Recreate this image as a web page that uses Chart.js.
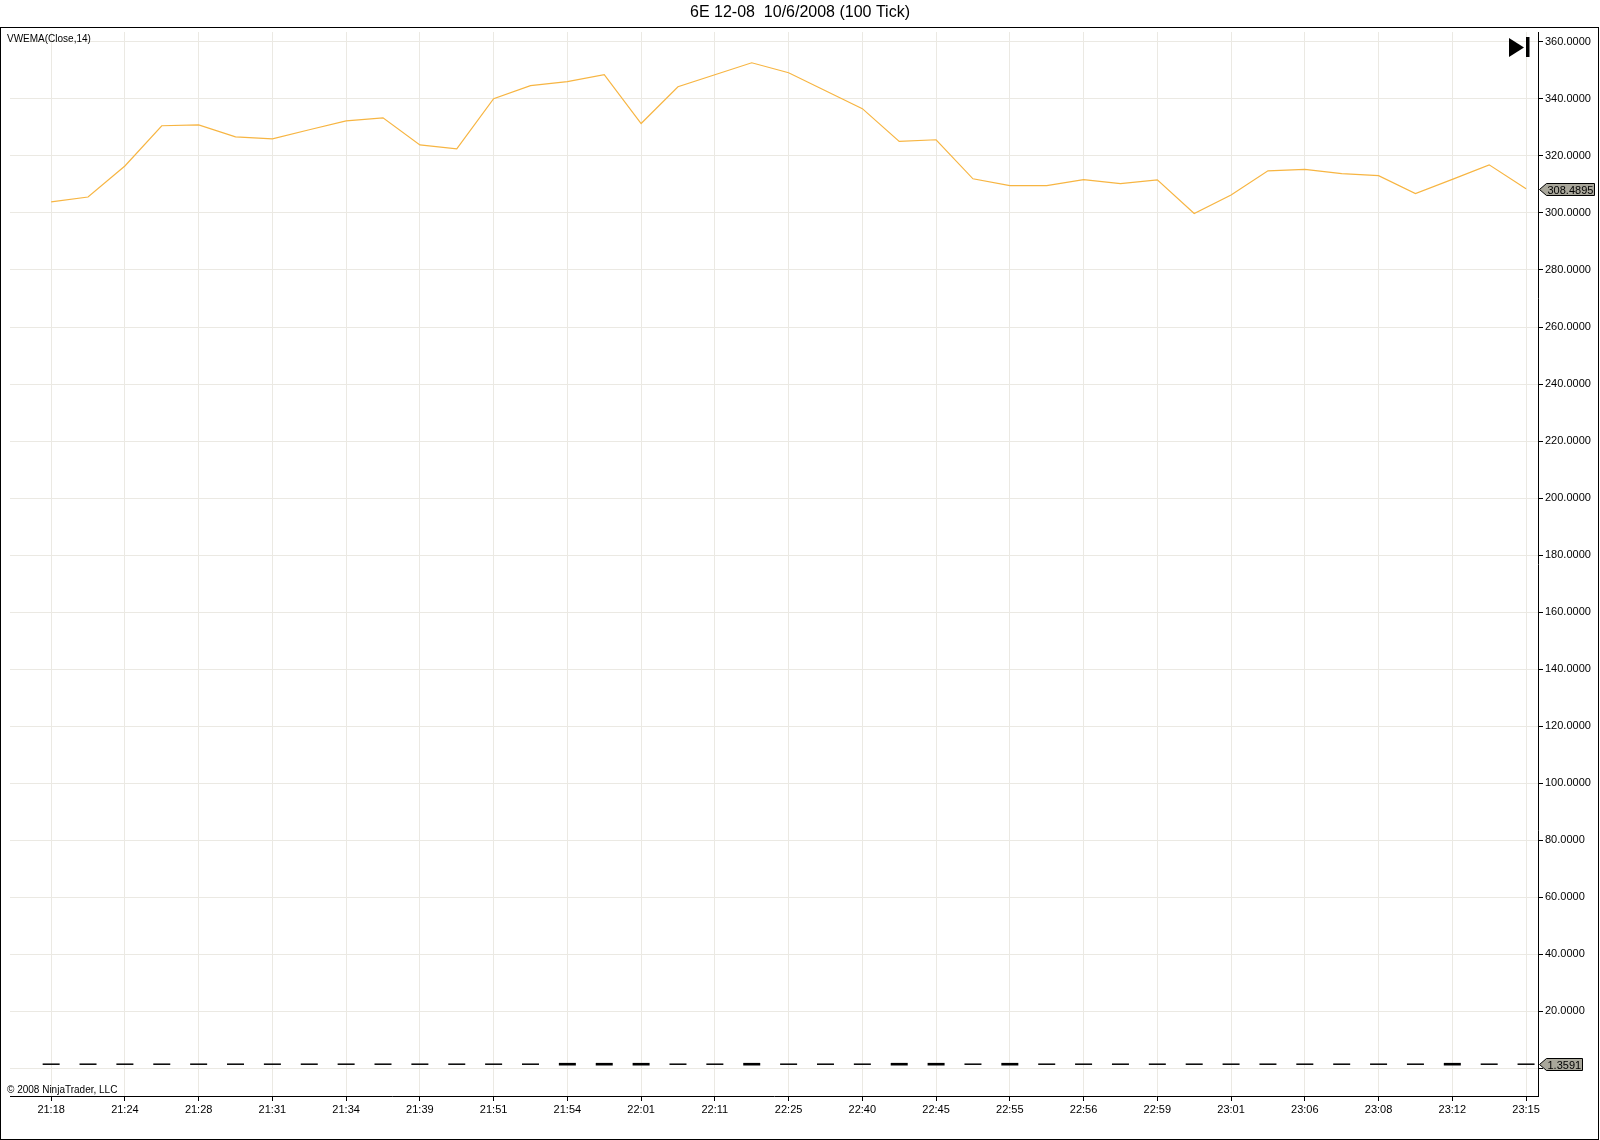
<!DOCTYPE html>
<html><head><meta charset="utf-8">
<script src="https://cdn.jsdelivr.net/npm/chart.js@4/dist/chart.umd.min.js"></script>
<style>html,body{margin:0;padding:0;background:#fff;overflow:hidden}canvas{display:block}</style>
</head><body>
<canvas id="c" width="1600" height="1140"></canvas>
<script>
const chartTitle = '6E 12-08  10/6/2008 (100 Tick)';
const indicatorName = 'VWEMA(Close,14)';
const copyrightText = '\u00A9 2008 NinjaTrader, LLC';
const tickLabels = ['21:18','21:24','21:28','21:31','21:34','21:39','21:51','21:54','22:01','22:11','22:25','22:40','22:45','22:55','22:56','22:59','23:01','23:06','23:08','23:12','23:15'];
const vwema = [303.9,305.6,316.5,330.6,330.9,326.7,326.0,329.2,332.3,333.4,323.9,322.5,340.1,344.7,346.1,348.5,331.4,344.3,348.5,352.7,349.2,342.9,336.6,325.1,325.7,312.0,309.6,309.6,311.7,310.3,311.6,299.8,306.3,314.8,315.3,313.8,313.1,306.8,311.8,316.9,308.4895];
const opens  = [1.3601,1.3601,1.3599,1.3599,1.3598,1.3600,1.3600,1.3599,1.3601,1.3602,1.3600,1.3600,1.3601,1.3599,1.3598,1.3590,1.3582,1.3575,1.3575,1.3572,1.3580,1.3582,1.3583,1.3582,1.3590,1.3598,1.3596,1.3588,1.3588,1.3587,1.3587,1.3586,1.3588,1.3589,1.3589,1.3590,1.3589,1.3588,1.3587,1.3593,1.3592];
const closes = [1.3602,1.3598,1.3600,1.3597,1.3599,1.3601,1.3598,1.3600,1.3603,1.3601,1.3599,1.3602,1.3600,1.3598,1.3590,1.3582,1.3574,1.3576,1.3573,1.3579,1.3581,1.3583,1.3582,1.3590,1.3598,1.3597,1.3588,1.3589,1.3587,1.3588,1.3586,1.3587,1.3589,1.3588,1.3590,1.3589,1.3588,1.3587,1.3595,1.3592,1.3591];
const yTicks = [0,20,40,60,80,100,120,140,160,180,200,220,240,260,280,300,320,340,360];

const FONT = '"Liberation Sans", Arial, sans-serif';
const lastIdx = vwema.length - 1;

function marker(c, x, y, text) {
  c.font = '11px ' + FONT;
  const tw = c.measureText(text).width;
  const tip = x + 1.5, bl = x + 8.5, right = Math.round(bl + tw + 2) + 0.5;
  const top = Math.round(y) - 5.5, bot = Math.round(y) + 6.5;
  c.beginPath();
  c.moveTo(tip, Math.round(y) + 0.5);
  c.lineTo(bl, top); c.lineTo(right, top); c.lineTo(right, bot); c.lineTo(bl, bot);
  c.closePath();
  c.fillStyle = '#a9a79b'; c.fill();
  c.strokeStyle = '#000'; c.lineWidth = 1; c.stroke();
  c.fillStyle = '#000'; c.textAlign = 'left'; c.textBaseline = 'middle';
  c.fillText(text, bl + 1, Math.round(y) + 1.5);
}

const overlay = {
  id: 'overlay',
  beforeDraw(chart) {
    const c = chart.ctx; c.save(); c.fillStyle = '#fff'; c.fillRect(0, 0, chart.width, chart.height); c.restore();
  },
  afterDraw(chart) {
    const c = chart.ctx, ys = chart.scales.y, ca = chart.chartArea;
    c.save();
    c.strokeStyle = '#000'; c.lineWidth = 1;
    c.strokeRect(0.5, 27.5, 1598, 1112);
    c.fillStyle = '#000'; c.textBaseline = 'middle';
    c.font = '16px ' + FONT; c.textAlign = 'center';
    c.fillText(chartTitle, 800, 13);
    c.font = '10px ' + FONT; c.textAlign = 'left';
    c.fillText(indicatorName, 7, 39);
    c.fillText(copyrightText, 7, 1090);
    // play-to-end icon
    c.beginPath(); c.moveTo(1509, 38); c.lineTo(1524, 47.5); c.lineTo(1509, 57); c.closePath(); c.fill();
    c.fillRect(1526, 37, 3.5, 20);
    marker(c, ca.right, ys.getPixelForValue(vwema[lastIdx]), vwema[lastIdx].toFixed(4));
    marker(c, ca.right, ys.getPixelForValue(closes[lastIdx]), closes[lastIdx].toFixed(4));
    c.restore();
  }
};

const vwemaPts = vwema.map((v, i) => ({x: i, y: v}));
const pricePts = closes.map((v, i) => ({x: i, y: v}));
const bodyWidths = closes.map((v, i) => Math.abs(v - opens[i]) >= 0.0005 ? 2.6 : 1.5);

new Chart(document.getElementById('c'), {
  type: 'line',
  data: {
    datasets: [
      { data: vwemaPts, borderColor: 'rgb(247,181,66)', borderWidth: 1.2, pointRadius: 0, tension: 0, fill: false },
      { data: pricePts, showLine: false, pointStyle: 'line', pointRadius: 8.5, pointBorderWidth: bodyWidths,
        pointBorderColor: '#000', pointBackgroundColor: '#000', pointHoverRadius: 8.5 }
    ]
  },
  plugins: [overlay],
  options: {
    responsive: false, animation: false, devicePixelRatio: 1,
    events: [],
    layout: { padding: { left: 5, top: 32, right: 0, bottom: 0 } },
    plugins: { legend: { display: false }, title: { display: false }, tooltip: { enabled: false } },
    scales: {
      x: {
        type: 'linear', min: -1.116, max: 40.324,
        afterBuildTicks(s) { s.ticks = tickLabels.map((t, k) => ({value: 2 * k})); },
        afterFit(s) { s.height = 44; },
        ticks: { autoSkip: false, maxRotation: 0, padding: 2, color: '#000', font: { family: FONT, size: 11 },
          callback: (v, i) => tickLabels[i] },
        grid: { color: '#ebe9e3', lineWidth: 1, tickLength: 5, tickColor: '#000' },
        border: { color: '#000', width: 1 }
      },
      y: {
        position: 'right', min: -9.8, max: 363.5,
        afterBuildTicks(s) { s.ticks = yTicks.map(v => ({value: v})); },
        afterFit(s) { s.width = 62; },
        ticks: { padding: 2, color: '#000', font: { family: FONT, size: 11 },
          callback: v => v === 0 ? '0' : Number(v).toFixed(4) },
        grid: { color: '#ebe9e3', lineWidth: 1, tickLength: 5, tickColor: '#000' },
        border: { color: '#000', width: 1 }
      }
    }
  }
});
</script>
</body></html>
